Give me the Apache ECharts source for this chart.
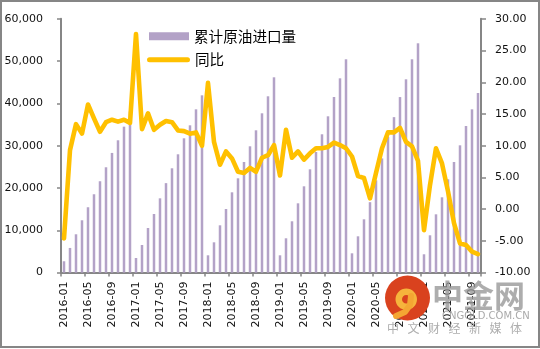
<!DOCTYPE html>
<html>
<head>
<meta charset="utf-8">
<script src="https://cdn.jsdelivr.net/npm/echarts@6/dist/echarts.min.js"></script>
<style>
html,body{margin:0;padding:0;background:#fff;}
#chart{width:540px;height:349px;}
</style>
</head>
<body>
<div id="chart"></div>
<script>
const categories = [
  '2016-01','2016-02','2016-03','2016-04','2016-05','2016-06','2016-07','2016-08','2016-09','2016-10','2016-11','2016-12',
  '2017-01','2017-02','2017-03','2017-04','2017-05','2017-06','2017-07','2017-08','2017-09','2017-10','2017-11','2017-12',
  '2018-01','2018-02','2018-03','2018-04','2018-05','2018-06','2018-07','2018-08','2018-09','2018-10','2018-11','2018-12',
  '2019-01','2019-02','2019-03','2019-04','2019-05','2019-06','2019-07','2019-08','2019-09','2019-10','2019-11','2019-12',
  '2020-01','2020-02','2020-03','2020-04','2020-05','2020-06','2020-07','2020-08','2020-09','2020-10','2020-11','2020-12',
  '2021-01','2021-02','2021-03','2021-04','2021-05','2021-06','2021-07','2021-08','2021-09','2021-10'
];
// 累计原油进口量 (万吨)
const cumulativeImports = [
  2680, 5830, 9060, 12370, 15450, 18520, 21600, 24900, 28290, 31280, 34500, 38100,
  3450, 6530, 10540, 13850, 17560, 21150, 24660, 27970, 31750, 34820, 38600, 41910,
  4090, 7160, 11180, 15040, 18980, 22290, 26150, 29860, 33640, 37660, 41680, 46170,
  4090, 8110, 12130, 16380, 20400, 24420, 28510, 32700, 36950, 41510, 45930, 50430,
  4560, 8580, 12600, 16650, 21800, 27000, 32100, 36750, 41500, 45700, 50430, 54210,
  4330, 8820, 13780, 17800, 22060, 26150, 30090, 34660, 38600, 42460
];
// 同比 (%)
const yoy = [
  -4.6, 9.3, 13.4, 11.9, 16.5, 14.3, 12.2, 13.7, 14.1, 13.8, 14.1, 13.6,
  27.6, 12.6, 15.1, 12.5, 13.3, 13.9, 13.7, 12.4, 12.3, 11.9, 12.1, 10.0,
  19.9, 10.6, 7.0, 9.1, 8.0, 5.9, 5.7, 6.5, 5.9, 8.1, 8.5, 10.1,
  5.3, 12.5, 8.1, 9.1, 7.8, 8.8, 9.6, 9.6, 9.8, 10.5, 10.1, 9.6,
  8.3, 5.2, 4.9, 1.7, 5.7, 9.6, 12.1, 12.1, 12.8, 10.6, 9.9, 7.6,
  -3.3, 3.8, 9.6, 7.2, 2.8, -2.2, -5.4, -5.65, -6.7, -7.1
];
const seriesNames = ['累计原油进口量', '同比'];
const watermarkChars = ['中','文','财','经','新','媒','体'];

const numFont = 'DejaVu Sans';
const cjkFont = 'Noto Sans CJK SC';
const axisGray = '#868686';

const chart = echarts.init(document.getElementById('chart'), null, {renderer: 'canvas'});

const graphics = [
  {type: 'rect', z: 100, silent: true, shape: {x: 1, y: 1, width: 538, height: 346},
   style: {fill: null, stroke: '#868686', lineWidth: 2}},
  {type: 'circle', z: 1, silent: true, left: 385, top: 275.5, shape: {r: 22.5},
   style: {fill: '#D9421E'}},
  {type: 'circle', z: 2, silent: true, left: 395.5, top: 288.5, shape: {r: 7.5},
   style: {fill: null, stroke: '#F6B43C', lineWidth: 6.5}},
  {type: 'polyline', z: 2, silent: true, left: 393, top: 293,
   shape: {points: [[18, 3], [17, 12], [12, 19], [3, 23]]},
   style: {stroke: '#F4A633', lineWidth: 6, fill: null, lineCap: 'round', lineJoin: 'round'}},
  {type: 'text', z: 100, silent: true, x: 432, y: 280,
   style: {text: '中金网', fontSize: 31, fontWeight: 'bold', fontFamily: cjkFont,
           fill: 'rgba(150,150,150,0.78)'}},
  {type: 'text', z: 100, silent: true, x: 442, y: 311,
   style: {text: 'CNGOLD.COM.CN', fontSize: 10, fontFamily: numFont, fill: 'rgba(160,160,160,0.9)'}}
];
watermarkChars.forEach((c, k) => {
  graphics.push({type: 'text', z: 100, silent: true, left: 387 + k * 20.5, top: 322,
    style: {text: c, fontSize: 12, fontFamily: cjkFont, fill: 'rgba(165,165,165,0.9)'}});
});

const option = {
  animation: false,
  backgroundColor: '#ffffff',
  grid: {left: 61, right: 59, top: 18.8, bottom: 76.4, containLabel: false},
  legend: [
    {data: [seriesNames[0]], left: 149, top: 29, padding: 0, orient: 'vertical',
     itemWidth: 40, itemHeight: 8, icon: 'rect',
     textStyle: {fontFamily: cjkFont, fontSize: 14.6, color: '#000'}},
    {data: [seriesNames[1]], left: 147, top: 52.5, padding: 0, orient: 'vertical',
     itemWidth: 43, itemHeight: 5,
     icon: 'path://M2.5,0 L40.5,0 A2.5,2.5 0 0 1 40.5,5 L2.5,5 A2.5,2.5 0 0 1 2.5,0 Z',
     itemStyle: {color: '#FFC000'},
     textStyle: {fontFamily: cjkFont, fontSize: 14.6, color: '#000'}}
  ],
  xAxis: {
    type: 'category',
    data: categories,
    boundaryGap: true,
    axisLine: {lineStyle: {color: axisGray, width: 2}},
    axisTick: {show: true, interval: 3, length: 4, lineStyle: {color: axisGray, width: 1.5}},
    axisLabel: {interval: 3, rotate: 90, margin: 9, fontFamily: numFont, fontSize: 11, color: '#111'},
    splitLine: {show: false}
  },
  yAxis: [
    {type: 'value', min: 0, max: 60000, interval: 10000, position: 'left',
     axisLine: {show: true, lineStyle: {color: axisGray, width: 2}},
     axisTick: {show: true, length: 4, lineStyle: {color: axisGray, width: 1.5}},
     splitLine: {show: false},
     axisLabel: {margin: 18, fontFamily: numFont, fontSize: 11, color: '#111',
       formatter: v => v.toLocaleString('en-US')}},
    {type: 'value', min: -10, max: 30, interval: 5, position: 'right',
     axisLine: {show: true, lineStyle: {color: axisGray, width: 2}},
     axisTick: {show: true, length: 5, lineStyle: {color: axisGray, width: 1.5}},
     splitLine: {show: false},
     axisLabel: {margin: 14, fontFamily: numFont, fontSize: 11, color: '#111',
       formatter: v => v.toFixed(2)}}
  ],
  series: [
    {name: seriesNames[0], type: 'bar', yAxisIndex: 0, data: cumulativeImports,
     barWidth: 2.5, itemStyle: {color: '#B3A2C7'}},
    {name: seriesNames[1], type: 'line', yAxisIndex: 1, data: yoy,
     showSymbol: false, symbol: 'none', smooth: false, z: 5,
     lineStyle: {color: '#FFC000', width: 4.6, cap: 'round', join: 'round'},
     itemStyle: {color: '#FFC000'}}
  ],
  graphic: graphics
};
chart.setOption(option);
</script>
</body>
</html>
